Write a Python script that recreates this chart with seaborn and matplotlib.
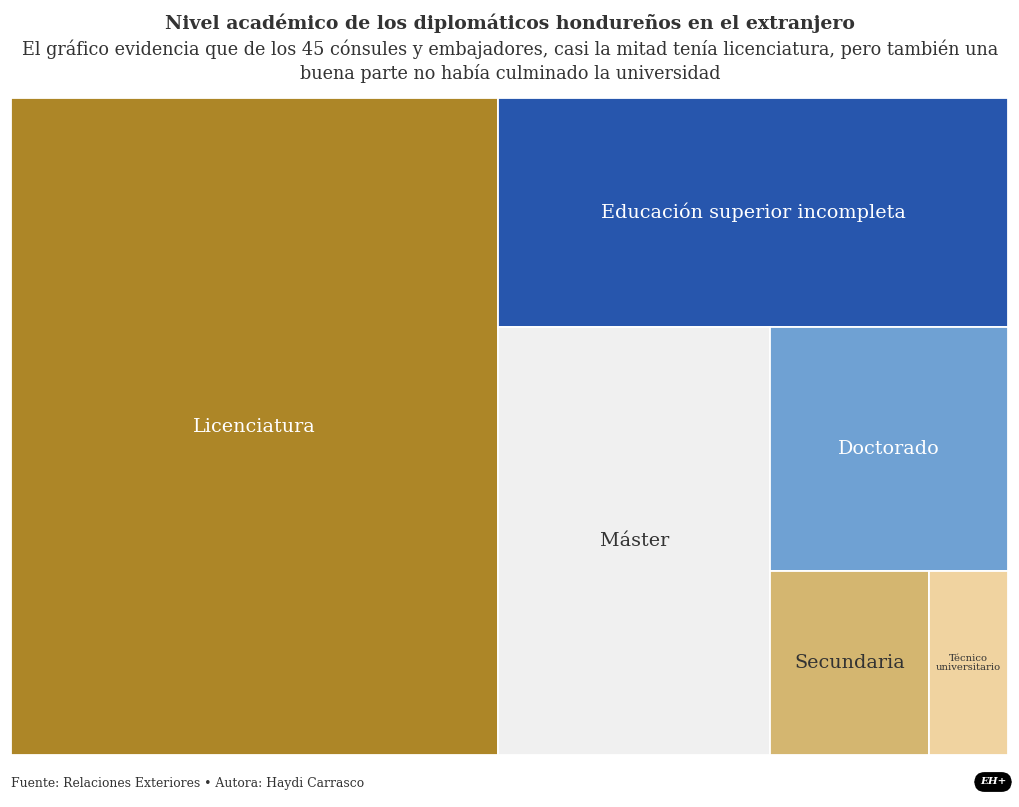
import numpy as np
import pandas as pd
import matplotlib
matplotlib.use("Agg")
import matplotlib.pyplot as plt
import seaborn as sns

# Nivel academico de los 45 consules y embajadores
categories = ["Licenciatura", "Educación superior incompleta", "Máster",
              "Doctorado", "Secundaria", "Técnico\nuniversitario"]
counts = [22, 8, 8, 4, 2, 1]
colors = ["#AD8627", "#2756AD", "#F0F0F0", "#6FA1D3", "#D4B670", "#F0D3A0"]
text_colors = ["white", "white", "#333333", "white", "#333333", "#333333"]
label_sizes = [13.8, 13.8, 13.8, 13.8, 13.8, 7.2]

df = pd.DataFrame({"Nivel": categories, "Personas": counts})

sns.set_theme(style="white")
plt.rcParams["font.family"] = ["DejaVu Serif"]


def slice_layout(values, x=0.0, y=0.0, w=1.0, h=1.0):
    # alternating slice: each item takes its share of what is left
    rects = []
    remaining = float(sum(values))
    vertical = True
    for v in values:
        frac = v / remaining
        if vertical:
            rects.append((x, y, w * frac, h))
            x += w * frac
            w -= w * frac
        else:
            rects.append((x, y + h - h * frac, w, h * frac))
            h -= h * frac
        remaining -= v
        vertical = not vertical
    return rects


rects = slice_layout(df["Personas"].tolist())
df["x"] = [r[0] for r in rects]
df["y"] = [r[1] for r in rects]
df["w"] = [r[2] for r in rects]
df["h"] = [r[3] for r in rects]

fig = plt.figure(figsize=(10.2, 8.07), dpi=100)
ax = fig.add_axes([11 / 1020, 52 / 807, 997 / 1020, 657 / 807])

ax.bar(df["x"], df["h"], width=df["w"], bottom=df["y"], align="edge",
       color=colors, edgecolor="white", linewidth=1.3)

for i, row in df.iterrows():
    ax.text(row["x"] + row["w"] / 2, row["y"] + row["h"] / 2, row["Nivel"],
            ha="center", va="center", color=text_colors[i],
            fontsize=label_sizes[i], linespacing=1.0)

ax.set_xlim(0, 1)
ax.set_ylim(0, 1)
ax.axis("off")

fig.text(0.5, 1 - 23 / 807, "Nivel académico de los diplomáticos hondureños en el extranjero",
         ha="center", va="center", fontsize=13.6, fontweight="bold", color="#333333")
fig.text(0.5, 1 - 61 / 807,
         "El gráfico evidencia que de los 45 cónsules y embajadores, casi la mitad tenía licenciatura, pero también una\n"
         "buena parte no había culminado la universidad",
         ha="center", va="center", fontsize=12.7, color="#333333", linespacing=1.35)
fig.text(11 / 1020, 1 - 784 / 807, "Fuente: Relaciones Exteriores • Autora: Haydi Carrasco",
         ha="left", va="center", fontsize=8.9, color="#333333")
fig.text(993 / 1020, 1 - 782 / 807, "EH+", ha="center", va="center", fontsize=7.5,
         fontweight="bold", fontstyle="italic", color="white",
         bbox=dict(boxstyle="round,pad=0.45,rounding_size=0.9", fc="black", ec="black"))

fig.savefig("out.png", dpi=100)
